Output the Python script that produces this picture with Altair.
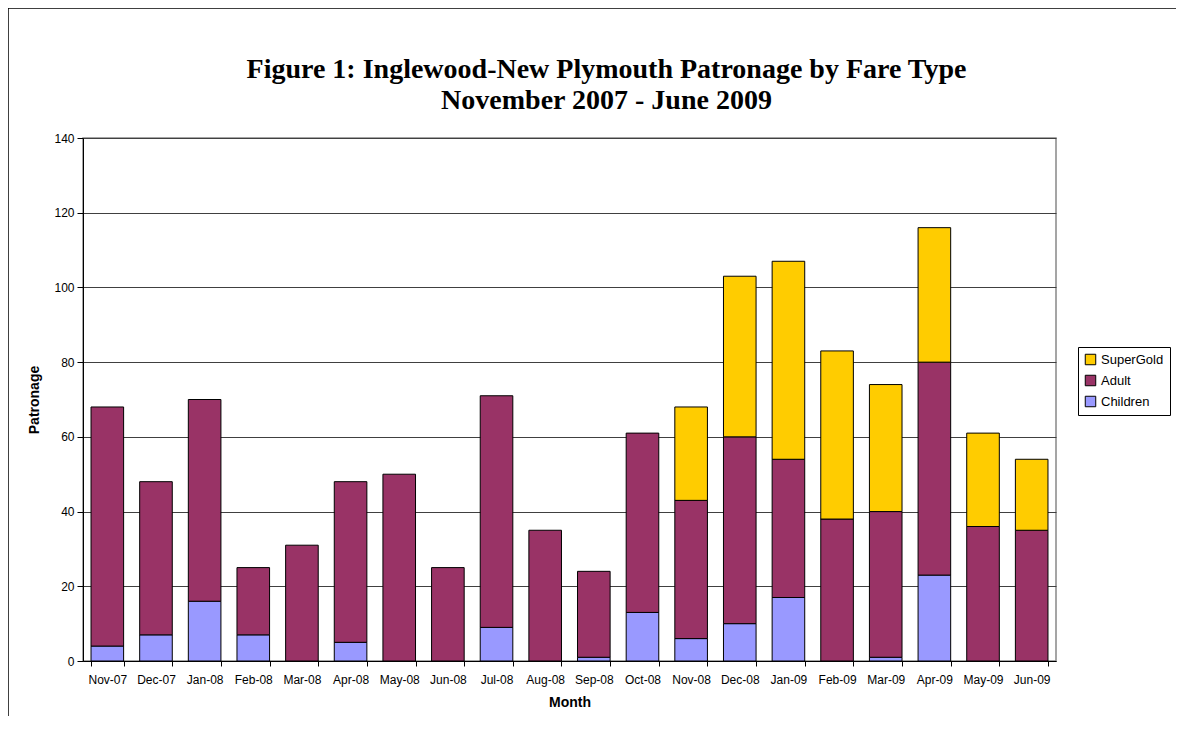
import altair as alt
import pandas as pd

months = ["Nov-07", "Dec-07", "Jan-08", "Feb-08", "Mar-08", "Apr-08", "May-08", "Jun-08",
          "Jul-08", "Aug-08", "Sep-08", "Oct-08", "Nov-08", "Dec-08", "Jan-09", "Feb-09",
          "Mar-09", "Apr-09", "May-09", "Jun-09"]
children = [4, 7, 16, 7, 0, 5, 0, 0, 9, 0, 1, 13, 6, 10, 17, 0, 1, 23, 0, 0]
adult = [64, 41, 54, 18, 31, 43, 50, 25, 62, 35, 23, 48, 37, 50, 37, 38, 39, 57, 36, 35]
supergold = [0, 0, 0, 0, 0, 0, 0, 0, 0, 0, 0, 0, 25, 43, 53, 45, 34, 36, 25, 19]

series = [("Children", children, 0), ("Adult", adult, 1), ("SuperGold", supergold, 2)]
rows = []
for name, vals, rank in series:
    for m, v in zip(months, vals):
        if v > 0:
            rows.append({"Month": m, "Fare": name, "Patronage": v, "rank": rank})
df = pd.DataFrame(rows)

bars = alt.Chart(df).mark_bar(stroke="black", strokeWidth=1).encode(
    x=alt.X("Month:N", sort=months,
            scale=alt.Scale(paddingInner=0.33, paddingOuter=0.165),
            axis=alt.Axis(title="Month", labelAngle=0, tickBand="extent",
                          domainColor="black", tickColor="black", tickSize=5,
                          labelPadding=8, titlePadding=10)),
    y=alt.Y("Patronage:Q", stack="zero",
            scale=alt.Scale(domain=[0, 140]),
            axis=alt.Axis(title="Patronage", values=[0, 20, 40, 60, 80, 100, 120, 140],
                          grid=True, gridColor="#404040", gridWidth=1,
                          domainColor="black", tickColor="black", tickSize=6,
                          labelPadding=3, titlePadding=12)),
    color=alt.Color("Fare:N",
                    scale=alt.Scale(domain=["SuperGold", "Adult", "Children"],
                                    range=["#FFCC00", "#993366", "#9999FF"]),
                    legend=alt.Legend(title=None, orient="none", legendX=995, legendY=209,
                                      symbolType="square", symbolSize=110,
                                      symbolStrokeColor="black", symbolStrokeWidth=1,
                                      labelFont="Liberation Sans", labelFontSize=13,
                                      labelColor="black",
                                      strokeColor="black", padding=6, rowPadding=6,
                                      fillColor="white")),
    order=alt.Order("rank:Q", sort="ascending"),
)

frame_df = pd.DataFrame({"a": [0]})
left_line = alt.Chart(frame_df).mark_rule(color="black", strokeWidth=1.5).encode(
    x=alt.value(-75), y=alt.value(-130), y2=alt.value(620))
top_line = alt.Chart(frame_df).mark_rule(color="black", strokeWidth=1.5).encode(
    x=alt.value(-75), x2=alt.value(1120), y=alt.value(-130))

chart = alt.layer(bars, left_line, top_line).properties(
    width=973, height=523,
    padding={"left": 75, "top": 130, "right": 120, "bottom": 55},
    autosize=alt.AutoSizeParams(type="none"),
    title=alt.TitleParams(
        text=["Figure 1: Inglewood-New Plymouth Patronage by Fare Type",
              "November 2007 - June 2009"],
        font="Liberation Serif", fontSize=28, fontWeight="bold", color="black",
        anchor="middle", dx=37, offset=-108, lineHeight=31),
).configure_view(stroke="#888888", strokeWidth=1.5).configure_axis(
    labelFont="Liberation Sans", labelFontSize=12, labelColor="black",
    titleFont="Liberation Sans", titleFontSize=14, titleFontWeight="bold", titleColor="black",
)

chart.save("out.html", embed_options={"renderer": "svg", "actions": False})
